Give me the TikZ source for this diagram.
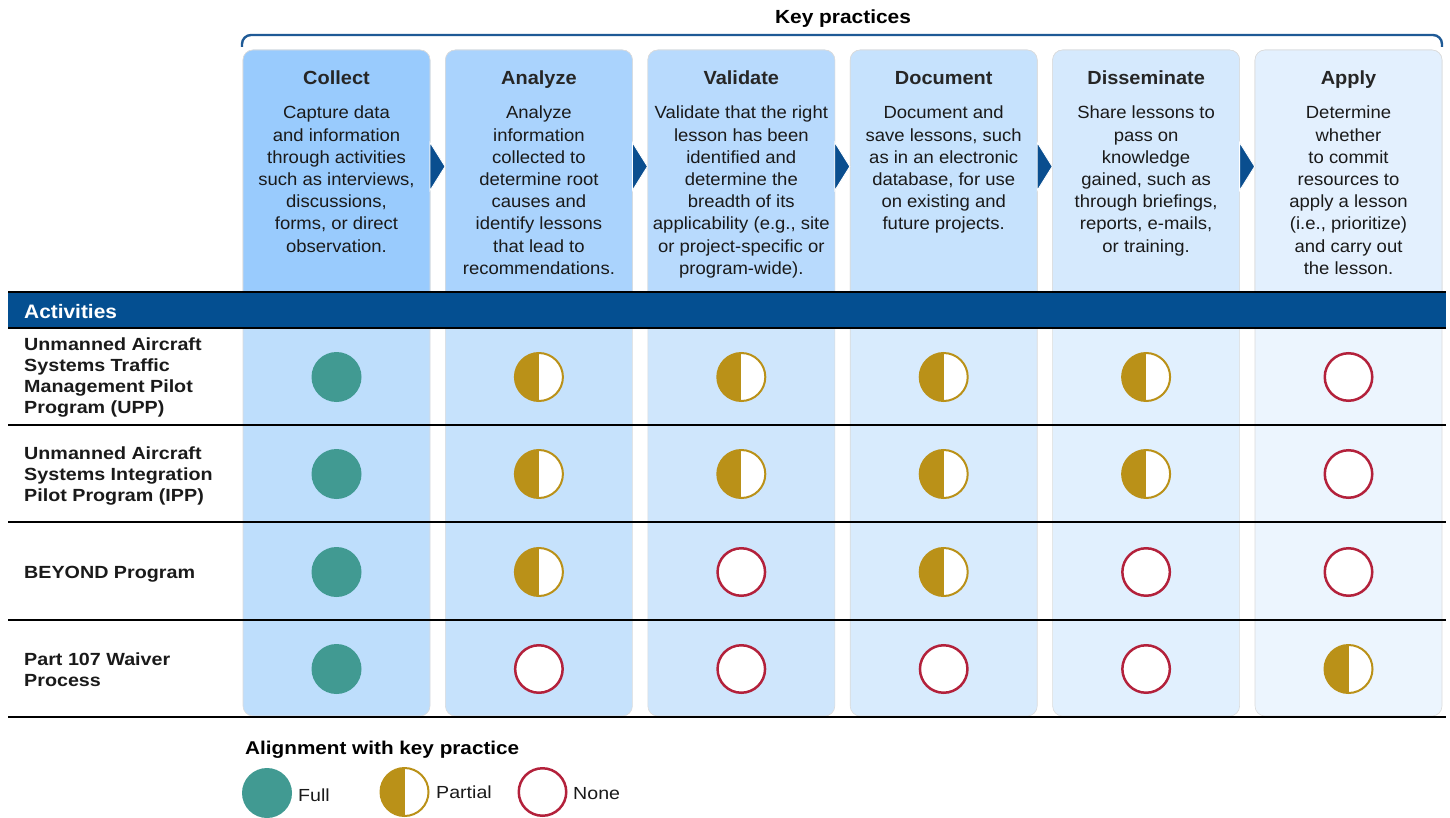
\documentclass[tikz,border=0pt]{standalone}
\usepackage{fontspec}
\setmainfont{Liberation Sans}
\newfontfamily\bodyf{Liberation Sans}[FakeStretch=1.05]
\newfontfamily\ttlf{Liberation Sans}[FakeStretch=1.05]
\newfontfamily\lblf{Liberation Sans}[FakeStretch=1.12]
\newfontfamily\keyf{Liberation Sans}[FakeStretch=1.10]
\newfontfamily\actf{Liberation Sans}[FakeStretch=1.07]
\definecolor{barblue}{HTML}{044F91}
\definecolor{brblue}{HTML}{1F5A96}
\definecolor{arblue}{HTML}{0A4E8F}
\definecolor{teal}{HTML}{419A92}
\definecolor{gold}{HTML}{BA9118}
\definecolor{nred}{HTML}{B3213B}
\definecolor{txt}{HTML}{1A1A1A}
\definecolor{ttl}{HTML}{262626}
\definecolor{hA}{HTML}{99CBFD}\definecolor{bA}{HTML}{BEDEFC}
\definecolor{hB}{HTML}{AAD3FD}\definecolor{bB}{HTML}{C6E2FC}
\definecolor{hC}{HTML}{B8DAFD}\definecolor{bC}{HTML}{CFE6FC}
\definecolor{hD}{HTML}{C6E2FD}\definecolor{bD}{HTML}{D8EBFD}
\definecolor{hE}{HTML}{D5E9FD}\definecolor{bE}{HTML}{E1F0FE}
\definecolor{hF}{HTML}{E3F0FE}\definecolor{bF}{HTML}{ECF5FE}
\tikzset{
  ttlfont/.style={font=\ttlf\bfseries\fontsize{19}{22}\selectfont, text=ttl, inner sep=0pt},
  bodyfont/.style={font=\bodyf\fontsize{17.6}{22.2}\selectfont, text=txt, align=center, inner sep=0pt, anchor=north},
  rowlbl/.style={font=\lblf\bfseries\fontsize{17.6}{21}\selectfont, text=txt, align=left, inner sep=0pt, anchor=west},
  legtxt/.style={font=\lblf\fontsize{17.5}{21}\selectfont, text=txt, anchor=west, inner sep=0pt},
  fullc/.style={circle, fill=teal, minimum size=50pt, inner sep=0pt},
  partc/.style={circle, draw=gold, line width=2pt, fill=white, minimum size=48pt, inner sep=0pt,
     path picture={\fill[gold] (path picture bounding box.south west) rectangle (path picture bounding box.north);}},
  nonec/.style={circle, draw=nred, line width=2.5pt, fill=white, minimum size=47.5pt, inner sep=0pt},
  rowline/.style={line width=2pt, black},
  arrowtri/.style={fill=arblue, draw=white, line width=0.8pt},
  boxedge/.style={draw=black!14, line width=0.6pt}
}
\begin{document}
\begin{tikzpicture}[x=1pt,y=-1pt]
\useasboundingbox (0,0) rectangle (1450,818);
% columns
\foreach \i/\h/\b in {0/hA/bA,1/hB/bB,2/hC/bC,3/hD/bD,4/hE/bE,5/hF/bF}{
  \pgfmathsetmacro{\xl}{243+202.4*\i}
  \pgfmathsetmacro{\xr}{\xl+187}
  \fill[\b, rounded corners=10pt, boxedge] (\xl,50) rectangle (\xr,716);
  \fill[\h, rounded corners=10pt, boxedge] (\xl,50) rectangle (\xr,310);
}
% arrows
\foreach \i in {0,...,4}{
  \pgfmathsetmacro{\xa}{430+202.4*\i}
  \filldraw[arrowtri] (\xa,142.5) -- (\xa+15,166.5) -- (\xa,190.5) -- cycle;
}
% bracket
\draw[brblue, line width=2.4pt, rounded corners=9pt] (242,47) -- (242,35) -- (1442,35) -- (1442,47);
\node[font=\keyf\bfseries\fontsize{19}{22}\selectfont, text=black, inner sep=0pt] (kp) at (843,18.5) {Key practices};
% titles
\node[ttlfont, anchor=base] (t1) at (336.5,85) {Collect};
\node[ttlfont, anchor=base] (t2) at (538.9,85) {Analyze};
\node[ttlfont, anchor=base] (t3) at (741.3,85) {Validate};
\node[ttlfont, anchor=base] (t4) at (943.7,85) {Document};
\node[ttlfont, anchor=base] (t5) at (1146.1,85) {Disseminate};
\node[ttlfont, anchor=base] (t6) at (1348.5,85) {Apply};
% body texts
\node[bodyfont] (d1) at (336.5,106) {Capture data\\and information\\through activities\\such as interviews,\\discussions,\\forms, or direct\\observation.};
\node[bodyfont] (d2) at (538.9,106) {Analyze\\information\\collected to\\determine root\\causes and\\identify lessons\\that lead to\\recommendations.};
\node[bodyfont] (d3) at (741.3,106) {Validate that the right\\lesson has been\\identified and\\determine the\\breadth of its\\applicability (e.g., site\\or project-specific or\\program-wide).};
\node[bodyfont] (d4) at (943.7,106) {Document and\\save lessons, such\\as in an electronic\\database, for use\\on existing and\\future projects.};
\node[bodyfont] (d5) at (1146.1,106) {Share lessons to\\pass on\\knowledge\\gained, such as\\through briefings,\\reports, e-mails,\\or training.};
\node[bodyfont] (d6) at (1348.5,106) {Determine\\whether\\to commit\\resources to\\apply a lesson\\(i.e., prioritize)\\and carry out\\the lesson.};
% activities bar
\fill[barblue] (8,292) rectangle (1446,328);
\draw[rowline] (8,292) -- (1446,292);
\draw[rowline] (8,328) -- (1446,328);
\node[font=\actf\bfseries\fontsize{19.5}{22}\selectfont, text=white, anchor=west, inner sep=0pt] (act) at (24,312) {Activities};
% row lines
\foreach \y in {425,522,620,717}{ \draw[rowline] (8,\y) -- (1446,\y); }
% row labels
\node[rowlbl] (r1) at (24,377) {Unmanned Aircraft\\Systems Traffic\\Management Pilot\\Program (UPP)};
\node[rowlbl] (r2) at (24,476) {Unmanned Aircraft\\Systems Integration\\Pilot Program (IPP)};
\node[rowlbl] (r3) at (24,574) {BEYOND Program};
\node[rowlbl] (r4) at (24,670) {Part 107 Waiver\\Process};
% circles
\foreach \r/\y/\list in {1/377/{fullc,partc,partc,partc,partc,nonec},
                        2/474/{fullc,partc,partc,partc,partc,nonec},
                        3/572/{fullc,partc,nonec,partc,nonec,nonec},
                        4/669/{fullc,nonec,nonec,nonec,nonec,partc}}{
  \foreach \s [count=\c from 0] in \list {
    \node[\s] (m\r-\c) at (336.5+202.4*\c,\y) {};
  }
}
% legend
\node[font=\lblf\bfseries\fontsize{18.5}{22}\selectfont, text=black, anchor=west, inner sep=0pt] (lt) at (245,750) {Alignment with key practice};
\node[fullc] (lf) at (267,793) {};
\node[partc] (lp) at (404.5,792) {};
\node[nonec] (ln) at (542.5,792) {};
\node[legtxt] (lft) at (298,795) {Full};
\node[legtxt] (lpt) at (436,792) {Partial};
\node[legtxt] (lnt) at (573,794) {None};
\end{tikzpicture}
\end{document}
